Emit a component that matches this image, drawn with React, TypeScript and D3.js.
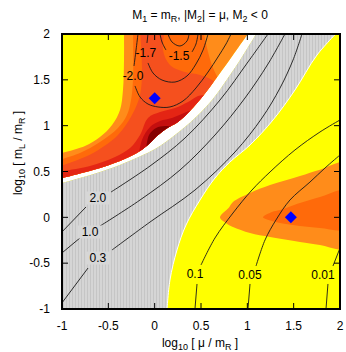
import React, { useEffect, useRef } from "react";
import * as d3 from "d3";

type Pt = [number, number];

// axes: log10(mu/mR) across, log10(mL/mR) up
const xTicks = [-1, -0.5, 0, 0.5, 1, 1.5, 2];
const yTicks = [-1, -0.5, 0, 0.5, 1, 1.5, 2];
const tickText = ["-1", "-0.5", "0", "0.5", "1", "1.5", "2"];

// upper edge of the excluded (white) band
const whiteEdge: Pt[] = [[-1.05, 0.415], [-0.665, 0.516], [-0.374, 0.615], [-0.191, 0.702], [-0.072, 0.789], [0.025, 0.887], [0.122, 0.964], [0.252, 1.04], [0.381, 1.16], [0.522, 1.324], [0.683, 1.542], [0.845, 1.771], [1.04, 2.05]];
// gray band, upper and lower edge
const grayUpper: Pt[] = [[-1.05, 0.36], [-0.59, 0.495], [-0.299, 0.604], [0.004, 0.745], [0.219, 0.898], [0.435, 1.084], [0.619, 1.28], [0.791, 1.52], [0.942, 1.749], [1.124, 2.05]];
const grayLower: Pt[] = [[2.0, 2.05], [1.752, 1.771], [1.514, 1.389], [1.277, 1.062], [1.029, 0.789], [0.813, 0.604], [0.651, 0.429], [0.489, 0.189], [0.338, -0.084], [0.241, -0.356], [0.165, -0.684], [0.13, -1.05]];

// shaded levels of the upper-left corner, outermost first
const level1Edge: Pt[] = [[-0.331, 2.05], [-0.331, 1.716], [-0.342, 1.389], [-0.374, 1.171], [-0.46, 1.007], [-0.59, 0.876], [-0.752, 0.778], [-1.05, 0.69]];
const level2Left: Pt[] = [[-0.234, 2.05], [-0.234, 1.498], [-0.255, 1.28], [-0.299, 1.116], [-0.396, 0.975], [-0.59, 0.822], [-0.806, 0.702], [-1.05, 0.62]];
const level2Right: Pt[] = [[0.522, 2.05], [0.576, 1.804], [0.63, 1.629], [0.705, 1.476], [0.813, 1.28]];
const level3Left: Pt[] = [[-0.158, 2.05], [-0.137, 1.607], [-0.158, 1.335], [-0.245, 1.116], [-0.396, 0.898], [-0.644, 0.713], [-0.86, 0.615], [-1.05, 0.55]];
const level3Right: Pt[] = [[0.111, 2.05], [0.09, 1.825], [0.165, 1.662], [0.327, 1.585], [0.489, 1.553], [0.619, 1.498], [0.813, 1.335]];
const level4Edge: Pt[] = [[-1.05, 0.495], [-0.698, 0.56], [-0.428, 0.658], [-0.266, 0.756], [-0.158, 0.898], [-0.072, 1.084], [0.058, 1.149], [0.219, 1.193], [0.36, 1.258], [0.468, 1.324], [0.554, 1.335]];
const level5Edge: Pt[] = [[-0.18, 0.625], [-0.137, 0.844], [-0.05, 0.985], [0.058, 1.051], [0.187, 1.084], [0.317, 1.138], [0.403, 1.171]];
const level6Edge: Pt[] = [[-0.094, 0.735], [-0.061, 0.898], [0.015, 0.975], [0.111, 0.996], [0.219, 0.985]];
const levelColors = ["#ff8c1a", "#ff6a0a", "#f5501e", "#e42514", "#c40f0f", "#850000"];

// lower-right island
const islandOuter: Pt[] = [[0.705, 0], [0.8, 0.105], [0.845, 0.167], [1.029, 0.265], [1.245, 0.352], [1.568, 0.451], [1.784, 0.52], [2.1, 0.6], [2.35, 0.15], [2.1, -0.34], [1.784, -0.302], [1.568, -0.269], [1.245, -0.215], [1.029, -0.171], [0.845, -0.105], [0.78, -0.07]];
const islandInner: Pt[] = [[1.169, 0], [1.266, 0.058], [1.353, 0.08], [1.568, 0.156], [1.784, 0.222], [2.1, 0.3], [2.3, 0.08], [2.1, -0.135], [1.784, -0.116], [1.568, -0.095], [1.353, -0.062], [1.266, -0.04]];

// contour lines, split where the label sits
const minus20: Pt[][] = [[[-0.18, 2.0], [-0.201, 1.825], [-0.223, 1.651]], [[-0.212, 1.433], [-0.158, 1.313], [-0.072, 1.236], [0.036, 1.204], [0.165, 1.204], [0.306, 1.269], [0.446, 1.411], [0.576, 1.585], [0.683, 1.749], [0.77, 1.891], [0.824, 2.0]]];
const minus17: Pt[][] = [[[-0.072, 2.0], [-0.083, 1.902]], [[-0.072, 1.684], [-0.018, 1.575], [0.079, 1.498], [0.219, 1.476], [0.349, 1.542], [0.446, 1.673], [0.522, 1.825], [0.576, 2.0]]];
const minus15: Pt[][] = [[[0.058, 2.0], [0.079, 1.913], [0.122, 1.825]], [[0.403, 1.804], [0.446, 1.891], [0.468, 2.0]]];
const innerRing: Pt[][] = [[[0.144, 2.0], [0.187, 1.913], [0.273, 1.869], [0.349, 1.924], [0.371, 2.0]]];
const plus20: Pt[][] = [[[-1.02, -0.18], [-0.741, 0.113]], [[-0.471, 0.276], [-0.05, 0.56], [0.327, 0.865], [0.705, 1.28], [1.007, 1.695], [1.223, 2.0]]];
const plus10: Pt[][] = [[[-1.02, -0.405], [-0.806, -0.225]], [[-0.59, -0.095], [-0.158, 0.189], [0.273, 0.516], [0.651, 0.898], [0.975, 1.302], [1.223, 1.673], [1.406, 2.0]]];
const plus03: Pt[][] = [[[-1.02, -0.96], [-0.719, -0.553]], [[-0.46, -0.356], [-0.05, -0.051], [0.435, 0.298], [0.867, 0.713], [1.158, 1.084], [1.353, 1.411], [1.493, 1.716], [1.59, 2.0]]];
const low010: Pt[][] = [[[0.435, -1.0], [0.457, -0.727]], [[0.5, -0.52], [0.651, -0.225], [0.845, 0.047], [1.05, 0.298], [1.245, 0.495], [1.514, 0.735], [1.784, 0.931], [2.0, 1.062]]];
const low005: Pt[][] = [[[1.007, -1.0], [1.029, -0.727]], [[1.094, -0.531], [1.191, -0.247], [1.309, -0.029], [1.46, 0.189], [1.676, 0.385], [1.838, 0.538], [2.0, 0.68]]];
const low001: Pt[][] = [[[1.849, -1.0], [1.87, -0.727]], [[1.924, -0.531], [2.0, -0.335]]];

const contourText = ["-2.0", "-1.7", "-1.5", "2.0", "1.0", "0.3", "0.1", "0.05", "0.01"];
const contourSpots: Pt[] = [[-0.234, 1.542], [-0.094, 1.793], [0.263, 1.76], [-0.612, 0.211], [-0.698, -0.16], [-0.612, -0.444], [0.435, -0.618], [1.029, -0.629], [1.817, -0.629]];
const boxedLabel = [false, false, false, true, true, true, false, false, false];

// benchmark points
const benchmarks: Pt[] = [[0, 1.3], [1.47, 0]];

const titleParts: [string, boolean][] = [["M", false], ["1", true], [" = m", false], ["R", true], [", |M", false], ["2", true], ["| = \u03bc, M", false], ["2", true], [" < 0", false]];
const xLabelParts: [string, boolean][] = [["log", false], ["10", true], [" [ \u03bc / m", false], ["R", true], [" ]", false]];
const yLabelParts: [string, boolean][] = [["log", false], ["10", true], [" [ m", false], ["L", true], [" / m", false], ["R", true], [" ]", false]];

const App = () => {
  const ref = useRef<SVGSVGElement>(null);

  useEffect(() => {
    const svg = d3.select(ref.current);
    svg.selectAll("*").remove();

    const x = d3.scaleLinear().domain([-1, 2]).range([62, 340]);
    const y = d3.scaleLinear().domain([-1, 2]).range([309, 34]);
    const font = "'Liberation Sans', Arial, Helvetica, sans-serif";

    const smooth = d3.line<Pt>().x((d) => x(d[0])).y((d) => y(d[1])).curve(d3.curveCatmullRom.alpha(0.5));
    const closedSmooth = d3.line<Pt>().x((d) => x(d[0])).y((d) => y(d[1])).curve(d3.curveCatmullRomClosed.alpha(0.5));
    const joinOn = (pts: Pt[]) => (smooth(pts) || "").replace(/^M/, "L");
    const straight = (pts: Pt[]) => pts.map((p) => `L${x(p[0])},${y(p[1])}`).join("");
    const lo = -1.05;
    const hi = 2.05;

    const defs = svg.append("defs");
    defs.append("clipPath").attr("id", "plot-clip").append("rect")
      .attr("x", x(-1)).attr("y", y(2)).attr("width", x(2) - x(-1)).attr("height", y(-1) - y(2));
    defs.append("clipPath").attr("id", "allowed").append("path")
      .attr("d", smooth(whiteEdge) + straight([[lo, hi]]) + "Z");
    const hatch = defs.append("pattern").attr("id", "hatch")
      .attr("patternUnits", "userSpaceOnUse").attr("width", 3).attr("height", 6);
    hatch.append("rect").attr("width", 3).attr("height", 6).attr("fill", "#d5d5d5");
    hatch.append("rect").attr("width", 1).attr("height", 6).attr("fill", "#c5c5c5");

    const plot = svg.append("g").attr("clip-path", "url(#plot-clip)");
    plot.append("rect").attr("x", x(-1)).attr("y", y(2))
      .attr("width", x(2) - x(-1)).attr("height", y(-1) - y(2)).attr("fill", "#ffff00");

    // white band above the gray region
    plot.append("path").attr("d", smooth(grayUpper) + straight([[lo, hi]]) + "Z").attr("fill", "#ffffff");

    // colored corner, kept above the white band
    const corner = plot.append("g").attr("clip-path", "url(#allowed)");
    corner.append("rect").attr("x", x(-1)).attr("y", y(2))
      .attr("width", x(2) - x(-1)).attr("height", y(-1) - y(2)).attr("fill", "#ffff00");
    const levelPaths = [
      smooth(level1Edge) + straight([[lo, lo], [hi, lo], [hi, hi]]) + "Z",
      smooth(level2Left) + straight([[lo, lo], [level2Right[4][0], lo]]) + joinOn([...level2Right].reverse()) + "Z",
      smooth(level3Left) + straight([[lo, lo], [level3Right[6][0], lo]]) + joinOn([...level3Right].reverse()) + "Z",
      smooth(level4Edge) + straight([[level4Edge[10][0], lo], [lo, lo]]) + "Z",
      smooth(level5Edge) + straight([[level5Edge[6][0], lo], [level5Edge[0][0], lo]]) + "Z",
      smooth(level6Edge) + straight([[level6Edge[4][0], lo], [level6Edge[0][0], lo]]) + "Z",
    ];
    corner.selectAll("path.level").data(levelPaths).enter().append("path")
      .attr("class", "level").attr("d", (d) => d).attr("fill", (_, i) => levelColors[i]);

    // gray hatched band
    plot.append("path")
      .attr("d", smooth(grayUpper) + joinOn(grayLower) + straight([[lo, lo]]) + "Z")
      .attr("fill", "url(#hatch)");
    plot.append("path").attr("d", smooth(grayLower)).attr("fill", "none")
      .attr("stroke", "#ffffff").attr("stroke-width", 1);

    // lower-right island
    plot.append("path").attr("d", closedSmooth(islandOuter)).attr("fill", levelColors[0]);
    plot.append("path").attr("d", closedSmooth(islandInner)).attr("fill", levelColors[1]);

    // contour lines
    const lines = [minus20, minus17, minus15, innerRing, plus20, plus10, plus03, low010, low005, low001];
    lines.forEach((segs) => {
      segs.forEach((seg) => {
        plot.append("path").attr("d", smooth(seg)).attr("fill", "none")
          .attr("stroke", "#1a1a1a").attr("stroke-width", 0.9);
      });
    });

    // contour labels
    contourSpots.forEach((p, i) => {
      if (boxedLabel[i]) {
        plot.append("rect").attr("x", x(p[0]) - 12).attr("y", y(p[1]) - 6.5)
          .attr("width", 24).attr("height", 13).attr("fill", "#d7d7d7");
      }
      plot.append("text").attr("x", x(p[0])).attr("y", y(p[1])).attr("dy", "0.35em")
        .attr("text-anchor", "middle").attr("font-family", font).attr("font-size", 12)
        .attr("fill", "#000").text(contourText[i]);
    });

    // benchmark diamonds
    plot.selectAll("path.bench").data(benchmarks).enter().append("path")
      .attr("class", "bench")
      .attr("d", d3.symbol(d3.symbolSquare, 72)())
      .attr("transform", (d) => `translate(${x(d[0])},${y(d[1])}) rotate(45)`)
      .attr("fill", "#0000ff");

    // frame and ticks
    const axes = svg.append("g").attr("stroke", "#000");
    xTicks.forEach((t) => {
      axes.append("line").attr("x1", x(t)).attr("x2", x(t)).attr("y1", y(-1)).attr("y2", y(-1) - 6);
      axes.append("line").attr("x1", x(t)).attr("x2", x(t)).attr("y1", y(2)).attr("y2", y(2) + 6);
    });
    yTicks.forEach((t) => {
      axes.append("line").attr("y1", y(t)).attr("y2", y(t)).attr("x1", x(-1)).attr("x2", x(-1) + 6);
      axes.append("line").attr("y1", y(t)).attr("y2", y(t)).attr("x1", x(2)).attr("x2", x(2) - 6);
    });
    axes.append("rect").attr("x", x(-1)).attr("y", y(2))
      .attr("width", x(2) - x(-1)).attr("height", y(-1) - y(2))
      .attr("fill", "none").attr("stroke-width", 2);

    const labels = svg.append("g").attr("font-family", font).attr("font-size", 12).attr("fill", "#000");
    xTicks.forEach((t, i) => {
      labels.append("text").attr("x", x(t)).attr("y", 330).attr("text-anchor", "middle").text(tickText[i]);
    });
    yTicks.forEach((t, i) => {
      labels.append("text").attr("x", 50).attr("y", y(t)).attr("dy", "0.35em")
        .attr("text-anchor", "end").text(tickText[i]);
    });

    const writeRich = (t: d3.Selection<SVGTextElement, unknown, null, undefined>, parts: [string, boolean][]) => {
      let down = false;
      parts.forEach(([s, sub]) => {
        const span = t.append("tspan").text(s);
        if (sub) {
          span.attr("font-size", 9);
          if (!down) { span.attr("dy", 3); down = true; }
        } else if (down) {
          span.attr("dy", -3);
          down = false;
        }
      });
    };

    writeRich(labels.append("text").attr("x", 200).attr("y", 18.5).attr("text-anchor", "middle")
      .attr("xml:space", "preserve"), titleParts);
    writeRich(labels.append("text").attr("x", 200).attr("y", 347).attr("text-anchor", "middle")
      .attr("xml:space", "preserve"), xLabelParts);
    writeRich(labels.append("text").attr("transform", "translate(22,153) rotate(-90)")
      .attr("text-anchor", "middle").attr("xml:space", "preserve"), yLabelParts);
  }, []);

  return (
    <svg ref={ref} width={346} height={352}
      style={{ position: "absolute", left: 0, top: 0, background: "#fff" }} />
  );
};

export default App;
